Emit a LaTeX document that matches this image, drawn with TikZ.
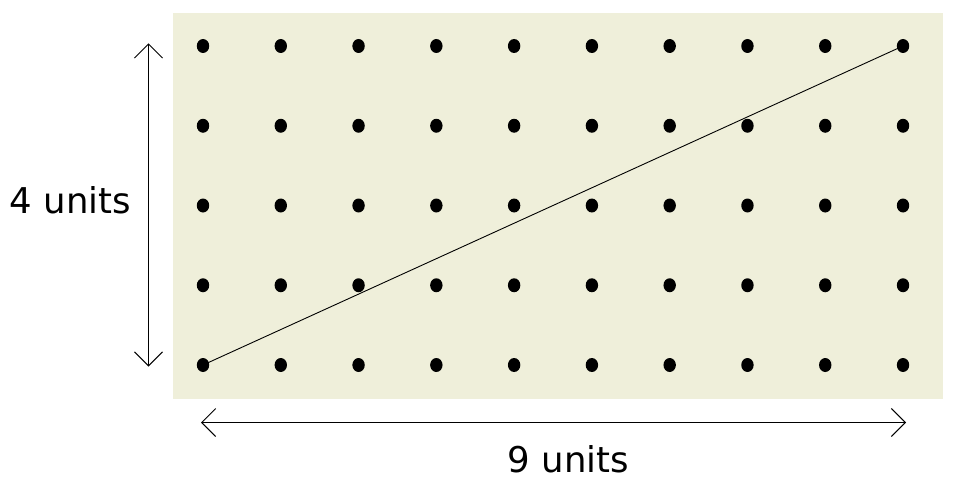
\documentclass[tikz,border=0pt]{standalone}
\usepackage{fontspec}
\setmainfont{DejaVu Sans}
\usetikzlibrary{arrows.meta,shapes.geometric}
\definecolor{bgbeige}{RGB}{239,239,218}
\tikzset{
  dot/.style={ellipse, fill=black, inner sep=0pt, minimum width=12.4pt, minimum height=14pt},
  dim/.style={line width=1pt, {Straight Barb[length=14pt,width=28pt]}-{Straight Barb[length=14pt,width=28pt]}},
  lbl/.style={font=\fontsize{35.5}{40}\selectfont, inner sep=0pt, anchor=base}
}
\begin{document}
\begin{tikzpicture}[x=1pt,y=-1pt]
\useasboundingbox (0,0) rectangle (953,495);
\fill[bgbeige] (172.7,12.7) rectangle (942.5,399);
\foreach \i in {0,...,9}{
  \foreach \j in {0,...,4}{
    \node[dot] (d-\i-\j) at ({203+\i*77.78},{365-\j*79.75}) {};
  }
}
\draw[line width=0.9pt] (d-0-0.center) -- (d-9-4.center);
\coordinate (vt) at (148.5,43.3);
\coordinate (vb) at (148.5,366.5);
\coordinate (hl) at (201,422.5);
\coordinate (hr) at (906,422.5);
\draw[dim] (vt) -- (vb);
\draw[dim] (hl) -- (hr);
\node[lbl] (l4) at (70.5,213.5) {4 units};
\node[lbl] (l9) at (568.5,472) {9 units};
\end{tikzpicture}
\end{document}
